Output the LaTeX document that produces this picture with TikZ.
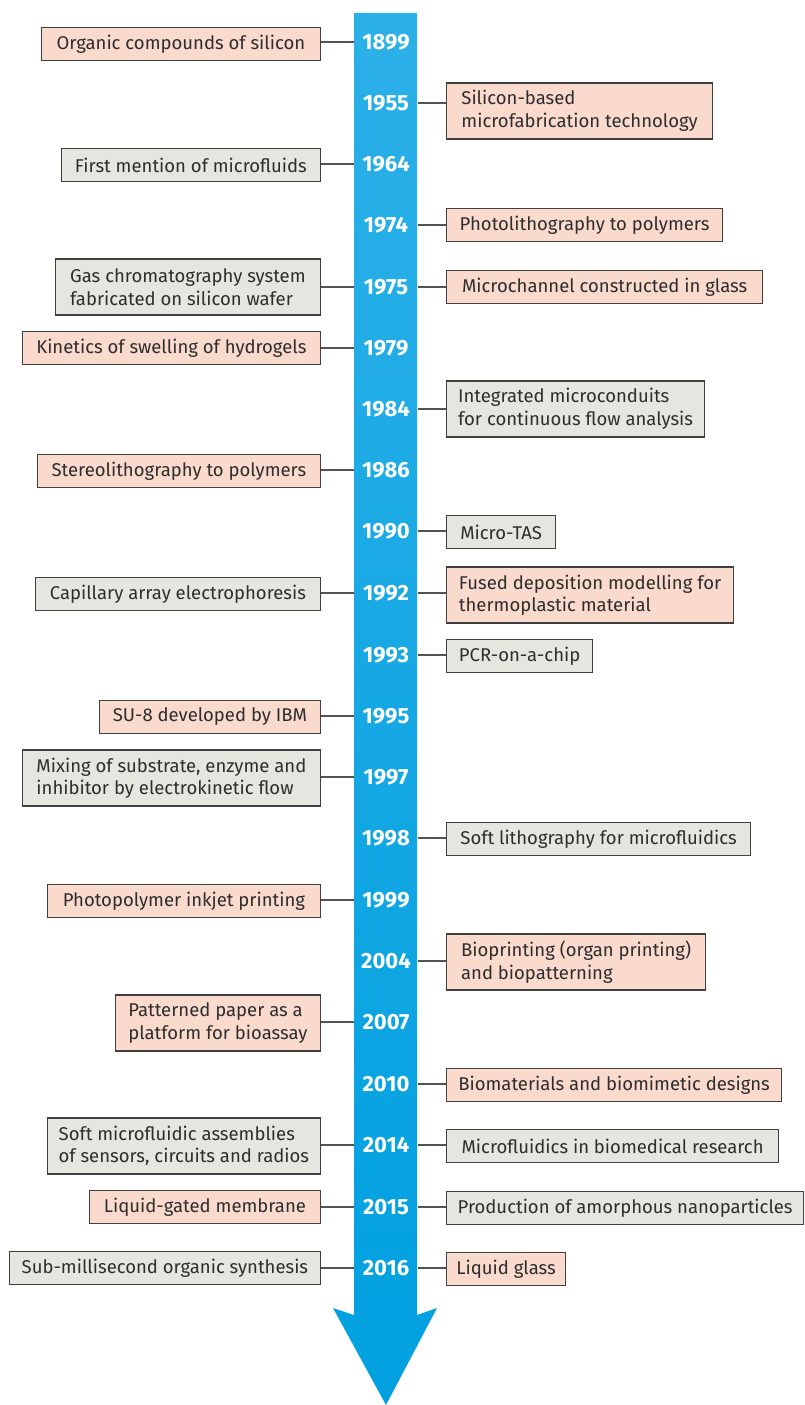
\documentclass[tikz,border=0pt]{standalone}
\usepackage{fontspec}
\setmainfont{Fira Sans}
\definecolor{pinkfill}{RGB}{250,218,205}
\definecolor{grayfill}{RGB}{230,230,225}
\definecolor{boxline}{RGB}{64,64,64}
\definecolor{txt}{RGB}{45,45,45}
\definecolor{arrtop}{RGB}{44,176,232}
\definecolor{arrbot}{RGB}{0,160,224}
\begin{document}
\begin{tikzpicture}[x=1pt,y=-1pt,
  evbox/.style={draw=boxline,line width=1.2pt,inner xsep=7pt,inner ysep=0pt,
    font=\fontsize{18.5}{22.5}\selectfont,text=txt,align=left},
  pinkbox/.style={evbox,fill=pinkfill},
  graybox/.style={evbox,fill=grayfill},
  onel/.style={minimum height=33pt},
  twol/.style={minimum height=56pt},
  yearlbl/.style={inner sep=0pt,minimum width=63pt,minimum height=22pt,
    text=white,font=\fontsize{22}{24}\selectfont\bfseries},
  conn/.style={draw=boxline!90,line width=1.2pt}]
\useasboundingbox (0,0) rectangle (804,1405);
% arrow
\shade[top color=arrtop,bottom color=arrbot]
  (354,13) -- (417,13) -- (417,1315) -- (437,1308) -- (386,1405)
  -- (333,1308) -- (354,1315) -- cycle;
% years
\foreach \yr/\yy in {1899/42,1955/103,1964/164,1974/225,1975/287,1979/348,
  1984/409,1986/470,1990/531,1992/593,1993/655,1995/716,1997/777,1998/838,
  1999/900,2004/961,2007/1022,2010/1084,2014/1145,2015/1207,2016/1268}
  \node[yearlbl] (y\yr) at (386,\yy) {\yr};
% left boxes
\node[pinkbox,onel,anchor=east,minimum width=279pt] (l1899) at (321,44) {Organic compounds of silicon};
\node[graybox,onel,anchor=east,minimum width=259pt] (l1964) at (321,165) {First mention of microfluids};
\node[graybox,twol,anchor=east,minimum width=265pt] (l1975) at (321,287) {Gas chromatography system\\fabricated on silicon wafer};
\node[pinkbox,onel,anchor=east,minimum width=298pt] (l1979) at (321,348) {Kinetics of swelling of hydrogels};
\node[pinkbox,onel,anchor=east,minimum width=283pt] (l1986) at (321,471) {Stereolithography to polymers};
\node[graybox,onel,anchor=east,minimum width=285pt] (l1992) at (321,594) {Capillary array electrophoresis};
\node[pinkbox,onel,anchor=east,minimum width=221pt] (l1995) at (321,717) {SU-8 developed by IBM};
\node[graybox,twol,anchor=east,minimum width=298pt] (l1997) at (321,778) {Mixing of substrate, enzyme and\\inhibitor by electrokinetic flow};
\node[pinkbox,onel,anchor=east,minimum width=273pt] (l1999) at (321,901) {Photopolymer inkjet printing};
\node[pinkbox,twol,anchor=east,minimum width=205pt] (l2007) at (321,1023) {Patterned paper as a\\platform for bioassay};
\node[graybox,twol,anchor=east,minimum width=273pt] (l2014) at (321,1146) {Soft microfluidic assemblies\\of sensors, circuits and radios};
\node[pinkbox,onel,anchor=east,minimum width=231pt] (l2015) at (321,1207) {Liquid-gated membrane};
\node[graybox,onel,anchor=east,minimum width=311pt] (l2016) at (321,1268) {Sub-millisecond organic synthesis};
% right boxes
\node[pinkbox,twol,anchor=west,minimum width=266pt] (r1955) at (446,111) {Silicon-based\\microfabrication technology};
\node[pinkbox,onel,anchor=west,minimum width=276pt] (r1974) at (446,225) {Photolithography to polymers};
\node[pinkbox,onel,anchor=west,minimum width=316pt] (r1975) at (446,287) {Microchannel constructed in glass};
\node[graybox,twol,anchor=west,minimum width=258pt] (r1984) at (446,409) {Integrated microconduits\\for continuous flow analysis};
\node[graybox,onel,anchor=west,minimum width=109pt] (r1990) at (446,532) {Micro-TAS};
\node[pinkbox,twol,anchor=west,minimum width=287pt] (r1992) at (446,595) {Fused deposition modelling for\\thermoplastic material};
\node[graybox,onel,anchor=west,minimum width=146pt] (r1993) at (446,656) {PCR-on-a-chip};
\node[graybox,onel,anchor=west,minimum width=304pt] (r1998) at (446,839) {Soft lithography for microfluidics};
\node[pinkbox,twol,anchor=west,minimum width=259pt] (r2004) at (446,962) {Bioprinting (organ printing)\\and biopatterning};
\node[pinkbox,onel,anchor=west,minimum width=335pt] (r2010) at (446,1085) {Biomaterials and biomimetic designs};
\node[graybox,onel,anchor=west,minimum width=332pt] (r2014) at (446,1146) {Microfluidics in biomedical research};
\node[graybox,onel,anchor=west,minimum width=357pt] (r2015) at (446,1208) {Production of amorphous nanoparticles};
\node[pinkbox,onel,anchor=west,minimum width=119pt] (r2016) at (446,1269) {Liquid glass};
% connectors
\foreach \yr in {1899,1964,1975,1979,1986,1992,1995,1997,1999,2007,2014,2015,2016}
  \draw[conn] (l\yr.east |- y\yr) -- (y\yr.west);
\foreach \yr in {1955,1974,1975,1984,1990,1992,1993,1998,2004,2010,2014,2015,2016}
  \draw[conn] (y\yr.east) -- (r\yr.west |- y\yr);
\end{tikzpicture}
\end{document}
